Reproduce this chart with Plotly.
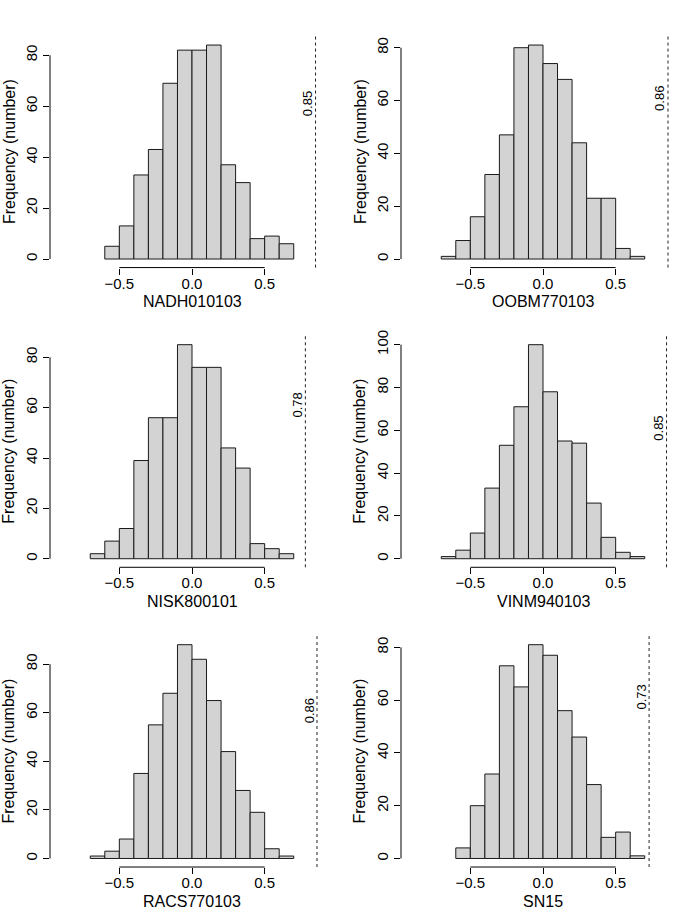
import plotly.graph_objects as go

W, H = 685, 915

# ---------------- data ----------------
names = ["NADH010103", "OOBM770103", "NISK800101", "VINM940103", "RACS770103", "SN15"]
corr_values = [0.85, 0.86, 0.78, 0.85, 0.86, 0.73]
bin_starts = [-0.6, -0.7, -0.7, -0.7, -0.7, -0.6]
bin_width = 0.1
counts_nadh = [5, 13, 33, 43, 69, 82, 82, 84, 37, 30, 8, 9, 6]
counts_oobm = [1, 7, 16, 32, 47, 80, 81, 74, 68, 44, 23, 23, 4, 1]
counts_nisk = [2, 7, 12, 39, 56, 56, 85, 76, 76, 44, 36, 6, 4, 2]
counts_vinm = [1, 4, 12, 33, 53, 71, 100, 78, 55, 54, 26, 10, 3, 1]
counts_racs = [1, 3, 8, 35, 55, 68, 88, 82, 65, 44, 28, 19, 4, 1]
counts_sn15 = [4, 20, 32, 73, 65, 81, 77, 56, 46, 28, 8, 10, 1]
all_counts = [counts_nadh, counts_oobm, counts_nisk, counts_vinm, counts_racs, counts_sn15]
x_tick_vals = [-0.5, 0.0, 0.5]
x_tick_text = ["\u22120.5", "0.0", "0.5"]
y_tick_step = 20
y_title = "Frequency (number)"
label_y = 61

# ---------------- layout geometry (pixels) ----------------
col_left = [50, 401]
col_right = [334, 685]
row_top = [30.7, 332.3, 634.3]
row_bottom = [263.3, 565.0, 866.7]
x_range = [-0.977, 0.977]

FONT = "Liberation Sans, Arial, Helvetica, sans-serif"
fig = go.Figure()
layout = dict(
    width=W, height=H, margin=dict(l=0, r=0, t=0, b=0),
    paper_bgcolor="white", plot_bgcolor="white", showlegend=False,
    font=dict(family=FONT, size=15, color="black"),
    shapes=[], annotations=[],
)

for i, (name, cnt, start, cv) in enumerate(zip(names, all_counts, bin_starts, corr_values)):
    r, c = divmod(i, 2)
    ax = "" if i == 0 else str(i + 1)
    xref, yref = "x" + ax, "y" + ax
    centers = [start + bin_width * (k + 0.5) for k in range(len(cnt))]
    fig.add_trace(go.Bar(
        x=centers, y=cnt, width=bin_width, xaxis=xref, yaxis=yref,
        marker=dict(color="#D3D3D3", line=dict(color="#1a1a1a", width=1)),
        hoverinfo="x+y",
    ))
    m = max(cnt)
    y_max_tick = (m // y_tick_step) * y_tick_step
    yticks = list(range(0, y_max_tick + 1, y_tick_step))
    xd = [col_left[c] / W, col_right[c] / W]
    yd = [1 - row_bottom[r] / H, 1 - row_top[r] / H]
    layout["xaxis" + ax] = dict(
        domain=xd, range=x_range, anchor=yref, showgrid=False, zeroline=False,
        showline=False, ticks="outside", ticklen=6, tickwidth=1, tickcolor="black",
        tickvals=x_tick_vals, ticktext=x_tick_text, tickfont=dict(size=15),
        ticklabelstandoff=-4, fixedrange=True,
    )
    layout["yaxis" + ax] = dict(
        domain=yd, range=[-0.04 * m, 1.04 * m], anchor=xref, showgrid=False,
        zeroline=False, showline=False, ticks="outside", ticklen=6, tickwidth=1,
        tickcolor="black", tickvals=yticks, ticktext=[str(v) for v in yticks],
        tickangle=-90, tickfont=dict(size=15), fixedrange=True,
    )
    # R-style axis lines spanning only first..last tick
    layout["shapes"].append(dict(
        type="line", xref=xref + " domain", yref=yref, x0=0, x1=0, y0=0, y1=y_max_tick,
        line=dict(color="black", width=1)))
    layout["shapes"].append(dict(
        type="line", xref=xref, yref=yref + " domain", x0=x_tick_vals[0], x1=x_tick_vals[-1],
        y0=0, y1=0, line=dict(color="black", width=1)))
    # dashed correlation line
    layout["shapes"].append(dict(
        type="line", xref=xref, yref=yref + " domain", x0=cv, x1=cv, y0=0, y1=1,
        line=dict(color="#222", width=1, dash="3px,3px")))
    layout["annotations"].append(dict(
        xref=xref, yref=yref, x=cv, y=label_y, text=f"{cv:.2f}", textangle=-90,
        showarrow=False, xshift=-8, font=dict(size=13)))
    # axis titles
    layout["annotations"].append(dict(
        xref=xref, yref="paper", x=0, y=1 - (row_bottom[r] + 34.5) / H, text=name,
        showarrow=False, yanchor="middle", xanchor="center", font=dict(size=16)))
    layout["annotations"].append(dict(
        xref="paper", yref="paper", x=(col_left[c] - 41) / W,
        y=1 - (row_top[r] + row_bottom[r]) / 2 / H, text=y_title, textangle=-90,
        showarrow=False, xanchor="center", yanchor="middle", font=dict(size=16)))

fig.update_layout(**layout)
fig.write_html(
    "out.html",
    config={"displayModeBar": False},
    post_script="document.body.style.margin='0';document.body.style.padding='0';"
                "document.documentElement.style.overflow='hidden';",
)
